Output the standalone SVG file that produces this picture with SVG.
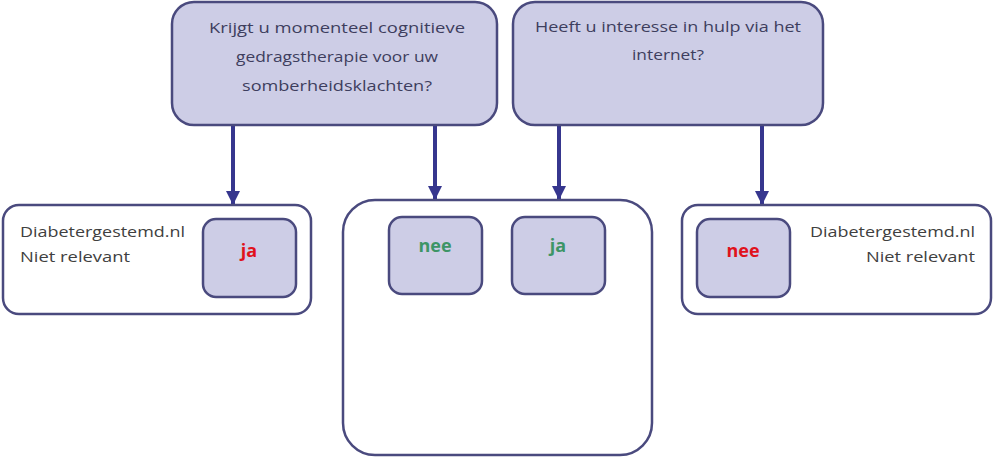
<svg xmlns="http://www.w3.org/2000/svg" width="994" height="469" viewBox="0 0 994 469">
<style>
.q{fill:#cdcde6;stroke:#4a4a7e;stroke-width:2.5}
.o{fill:#ffffff;stroke:#4a4a7e;stroke-width:2.5}
.i{fill:#cdcde6;stroke:#4a4a7e;stroke-width:2.5}
.t{font-family:"Open Sans","Liberation Sans",sans-serif;font-size:15px;fill:#3e3e5e}
.d{font-family:"Open Sans","Liberation Sans",sans-serif;font-size:15px;fill:#404040}
.r{font-family:"Open Sans","Liberation Sans",sans-serif;font-size:18px;font-weight:bold;fill:#e0121c}
.g{font-family:"Open Sans","Liberation Sans",sans-serif;font-size:18px;font-weight:bold;fill:#3d9566}
.c{stroke:#36368e;stroke-width:4;fill:none}
</style>
<defs>
<marker id="ah" viewBox="0 0 10 10" refX="10" refY="5" markerWidth="4" markerHeight="3.5" markerUnits="strokeWidth" orient="auto">
<path d="M0,0 L10,5 L0,10 z" fill="#36368e"/>
</marker>
</defs>
<g id="connectors">
<line class="c" x1="233" y1="126" x2="233" y2="205" marker-end="url(#ah)"/>
<line class="c" x1="435" y1="126" x2="435" y2="200" marker-end="url(#ah)"/>
<line class="c" x1="559" y1="126" x2="559" y2="200" marker-end="url(#ah)"/>
<line class="c" x1="762" y1="126" x2="762" y2="205" marker-end="url(#ah)"/>
</g>
<g id="q1">
<rect class="q" x="172" y="2" width="325" height="123" rx="22"/>
<text class="t" x="337" y="33" text-anchor="middle" textLength="256" lengthAdjust="spacingAndGlyphs">Krijgt u momenteel cognitieve</text>
<text class="t" x="337" y="62" text-anchor="middle" textLength="202" lengthAdjust="spacingAndGlyphs">gedragstherapie voor uw</text>
<text class="t" x="337" y="91" text-anchor="middle" textLength="190" lengthAdjust="spacingAndGlyphs">somberheidsklachten?</text>
</g>
<g id="q2">
<rect class="q" x="513" y="2" width="310" height="123" rx="22"/>
<text class="t" x="668" y="32" text-anchor="middle" textLength="266" lengthAdjust="spacingAndGlyphs">Heeft u interesse in hulp via het</text>
<text class="t" x="668" y="60" text-anchor="middle" textLength="72" lengthAdjust="spacingAndGlyphs">internet?</text>
</g>
<g id="left">
<rect class="o" x="3" y="205" width="308" height="109" rx="16"/>
<text class="d" x="20" y="237" textLength="165" lengthAdjust="spacingAndGlyphs">Diabetergestemd.nl</text>
<text class="d" x="20" y="262" textLength="110" lengthAdjust="spacingAndGlyphs">Niet relevant</text>
</g>
<g id="left-ja">
<rect class="i" x="203" y="219" width="93" height="78" rx="13"/>
<text class="r" x="249" y="257" text-anchor="middle">ja</text>
</g>
<g id="middle">
<rect class="o" x="343" y="200" width="309" height="255" rx="32"/>
</g>
<g id="mid-nee">
<rect class="i" x="389" y="217" width="93" height="77" rx="13"/>
<text class="g" x="435" y="252" text-anchor="middle">nee</text>
</g>
<g id="mid-ja">
<rect class="i" x="512" y="217" width="93" height="77" rx="13"/>
<text class="g" x="558" y="252" text-anchor="middle">ja</text>
</g>
<g id="right">
<rect class="o" x="682" y="205" width="309" height="109" rx="16"/>
<text class="d" x="975" y="237" text-anchor="end" textLength="165" lengthAdjust="spacingAndGlyphs">Diabetergestemd.nl</text>
<text class="d" x="975" y="262" text-anchor="end" textLength="109" lengthAdjust="spacingAndGlyphs">Niet relevant</text>
</g>
<g id="right-nee">
<rect class="i" x="697" y="219" width="93" height="78" rx="13"/>
<text class="r" x="743" y="257" text-anchor="middle">nee</text>
</g>
</svg>
